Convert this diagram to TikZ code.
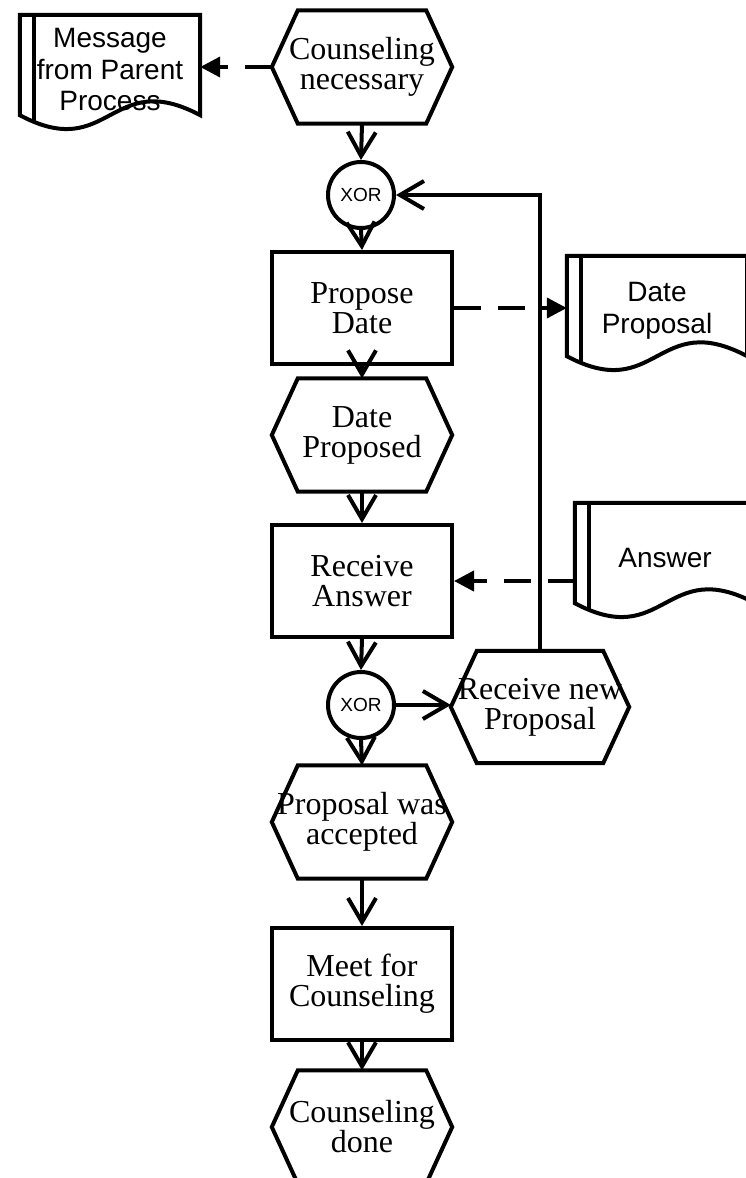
\documentclass[tikz,border=0pt]{standalone}
\usepackage{fontspec}
\setmainfont{Liberation Serif}
\newfontfamily\arialf{Liberation Sans}
\usetikzlibrary{arrows.meta}
\begin{document}
\begin{tikzpicture}[x=1pt,y=-1pt,
  every node/.style={inner sep=0pt, align=center},
  box/.style={draw, line width=4pt, minimum width=180pt, minimum height=112pt, font=\fontsize{32}{30}\selectfont},
  hexnode/.style={minimum width=180pt, minimum height=113pt, font=\fontsize{32}{30}\selectfont},
  outline/.style={line width=4pt, line join=miter},
  docnode/.style={minimum width=180pt, minimum height=110pt, font=\arialf\fontsize{28}{31.5}\selectfont},
  xor/.style={circle, draw, line width=4pt, minimum size=66pt, font=\arialf\fontsize{19}{19}\selectfont},
  conn/.style={line width=4pt, -{Straight Barb[length=24pt,width=28pt]}},
  flow/.style={line width=4pt, dash pattern=on 27pt off 17pt, -{Triangle[length=20pt,width=20pt]}}]
\useasboundingbox (0,0) rectangle (745,1178);

% main column
\node[hexnode] (cn) at (362,67) {Counseling\\necessary};
\node[xor] (x1) at (361,195) {XOR};
\node[box] (pd) at (362,308) {Propose\\Date};
\node[hexnode] (dp) at (362,435) {Date\\Proposed};
\node[box] (ra) at (362,581) {Receive\\Answer};
\node[xor] (x2) at (361,705) {XOR};
\node[hexnode, minimum width=178pt, minimum height=112pt] (rnp) at (540,707) {Receive new\\Proposal};
\node[hexnode] (pa) at (362,822) {Proposal was\\accepted};
\node[box] (mc) at (362,984) {Meet for\\Counseling};
\node[hexnode] (cd) at (362,1127) {Counseling\\done};

% documents
\node[docnode] (msg) at (110,70) {Message\\from Parent\\Process};
\node[docnode] (dprop) at (657,311) {Date\\Proposal};
\node[docnode] (ans) at (665,558) {Answer};

% hexagon outlines
\foreach \nm in {cn,dp,rnp,pa,cd} {
  \draw[outline] ([xshift=26pt]\nm.north west) -- ([xshift=-26pt]\nm.north east) -- (\nm.east)
    -- ([xshift=-26pt]\nm.south east) -- ([xshift=26pt]\nm.south west) -- (\nm.west) -- cycle;
}

% document outlines
\foreach \nm in {msg,dprop,ans} {
  \draw[outline] (\nm.north west) -- (\nm.north east) -- ([yshift=10pt]\nm.south east)
    .. controls ([yshift=58pt]\nm.south) and ([yshift=-38pt]\nm.south) .. ([yshift=10pt]\nm.south west) -- cycle;
  \draw[outline] ([xshift=14pt]\nm.north west) -- ([xshift=14pt,yshift=3.5pt]\nm.south west);
}

% control flow
\draw[conn] (cn.south) -- (x1.north);
\draw[conn] (x1.south) -- (pd.north);
\draw[conn] (pd.south) -- (dp.north);
\draw[conn] (dp.south) -- (ra.north);
\draw[conn] (ra.south) -- (x2.north);
\draw[conn] (x2.east) -- (x2.east -| rnp.west);
\draw[conn] (x2.south) -- (pa.north);
\draw[conn] (pa.south) -- (mc.north);
\draw[conn] (mc.south) -- (cd.north);
\draw[conn] (rnp.north) |- (x1.east);

% information flow
\draw[flow] (cn.west) -- (cn.west -| msg.east);
\draw[flow] (pd.east) -- (pd.east -| dprop.west);
\draw[flow] (ra.east -| ans.west) -- (ra.east);
\end{tikzpicture}
\end{document}
